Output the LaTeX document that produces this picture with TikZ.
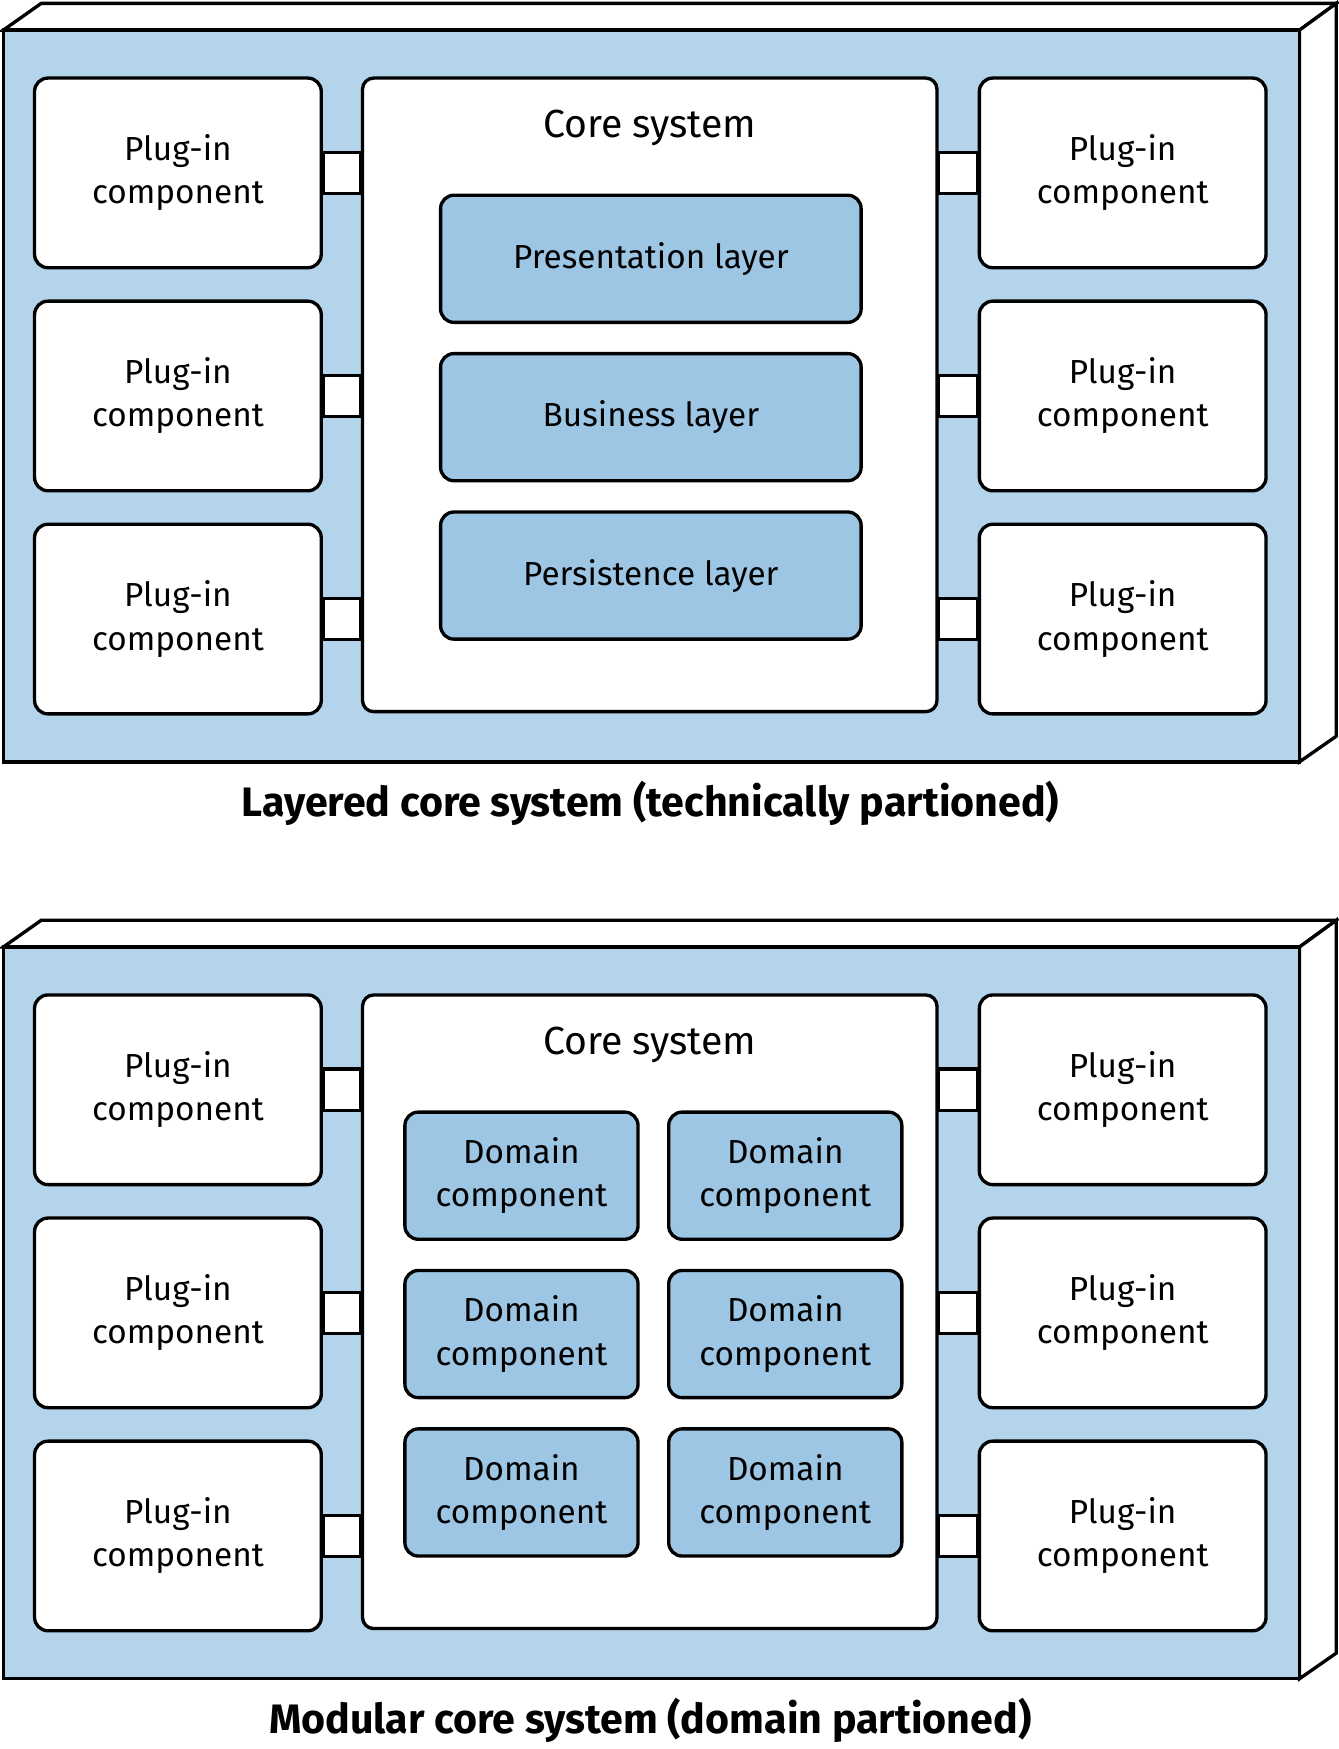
\documentclass[tikz,border=0pt]{standalone}
\usepackage{fontspec}
\setmainfont{Fira Sans}
\usetikzlibrary{calc}

\tikzset{
  frame/.style={line width=1.7pt, line join=miter},
  plugbox/.style={draw, line width=1.7pt, fill=white, rounded corners=0.24cm,
    minimum width=5.14cm, minimum height=3.4cm, align=center, font=\fontsize{17}{22}\selectfont},
  corebox/.style={draw, line width=1.7pt, fill=white, rounded corners=0.2cm,
    minimum width=10.3cm, minimum height=11.36cm},
  innerbox/.style={draw, line width=1.7pt, fill=innerblue, rounded corners=0.24cm,
    minimum height=2.28cm, align=center, font=\fontsize{17}{22}\selectfont},
  link/.style={draw, line width=1.7pt, fill=white},
  caption/.style={font=\fontsize{21}{26}\selectfont\bfseries}
}
\definecolor{frontblue}{HTML}{B3D4EA}
\definecolor{innerblue}{HTML}{9DC6E4}

\newcommand{\panelframe}{%
  % 3D housing
  \draw[frame, fill=white] (0.06,-0.54) -- (0.74,-0.06) -- (23.96,-0.06) -- (23.3,-0.54) -- cycle;
  \draw[frame, fill=white] (23.3,-0.54) -- (23.96,-0.06) -- (23.96,-13.2) -- (23.3,-13.66) -- cycle;
  \draw[frame, fill=frontblue] (0.06,-0.54) rectangle (23.3,-13.66);
}

\begin{document}
\begin{tikzpicture}
\useasboundingbox (0,0) rectangle (24,-31.36);

% Layered core system
\begin{scope}
  \panelframe
  \node[corebox] (core) at (11.65,-7.08) {};
  \node[font=\fontsize{20}{24}\selectfont] (title) at (11.65,-2.3) {Core system};
  \foreach \i/\y in {1/-3.1, 2/-7.1, 3/-11.1} {
    \node[plugbox] (left\i) at (3.19,\y) {Plug-in\\component};
    \node[plugbox] (right\i) at (20.13,\y) {Plug-in\\component};
    \draw[link] ([yshift=0.37cm]left\i.east) rectangle (core.west |- {$(left\i.east)+(0,-0.37)$});
    \draw[link] ([yshift=0.37cm]right\i.west) rectangle (core.east |- {$(right\i.west)+(0,-0.37)$});
  }
  \node[innerbox, minimum width=7.54cm] (pres) at (11.67,-4.64) {Presentation layer};
  \node[innerbox, minimum width=7.54cm] (bus) at (11.67,-7.48) {Business layer};
  \node[innerbox, minimum width=7.54cm] (pers) at (11.67,-10.32) {Persistence layer};
  \node[caption] (cap) at (11.66,-14.4) {Layered core system (technically partioned)};
\end{scope}

% Modular core system
\begin{scope}[yshift=-16.44cm]
  \panelframe
  \node[corebox] (mcore) at (11.65,-7.08) {};
  \node[font=\fontsize{20}{24}\selectfont] (mtitle) at (11.65,-2.3) {Core system};
  \foreach \i/\y in {1/-3.1, 2/-7.1, 3/-11.1} {
    \node[plugbox] (mleft\i) at (3.19,\y) {Plug-in\\component};
    \node[plugbox] (mright\i) at (20.13,\y) {Plug-in\\component};
    \draw[link] ([yshift=0.37cm]mleft\i.east) rectangle (mcore.west |- {$(mleft\i.east)+(0,-0.37)$});
    \draw[link] ([yshift=0.37cm]mright\i.west) rectangle (mcore.east |- {$(mright\i.west)+(0,-0.37)$});
  }
  \foreach \i/\y in {1/-4.64, 2/-7.48, 3/-10.32} {
    \node[innerbox, minimum width=4.18cm] (domA\i) at (9.35,\y) {Domain\\component};
    \node[innerbox, minimum width=4.18cm] (domB\i) at (14.08,\y) {Domain\\component};
  }
  \node[caption] (mcap) at (11.66,-14.4) {Modular core system (domain partioned)};
\end{scope}
\end{tikzpicture}
\end{document}
